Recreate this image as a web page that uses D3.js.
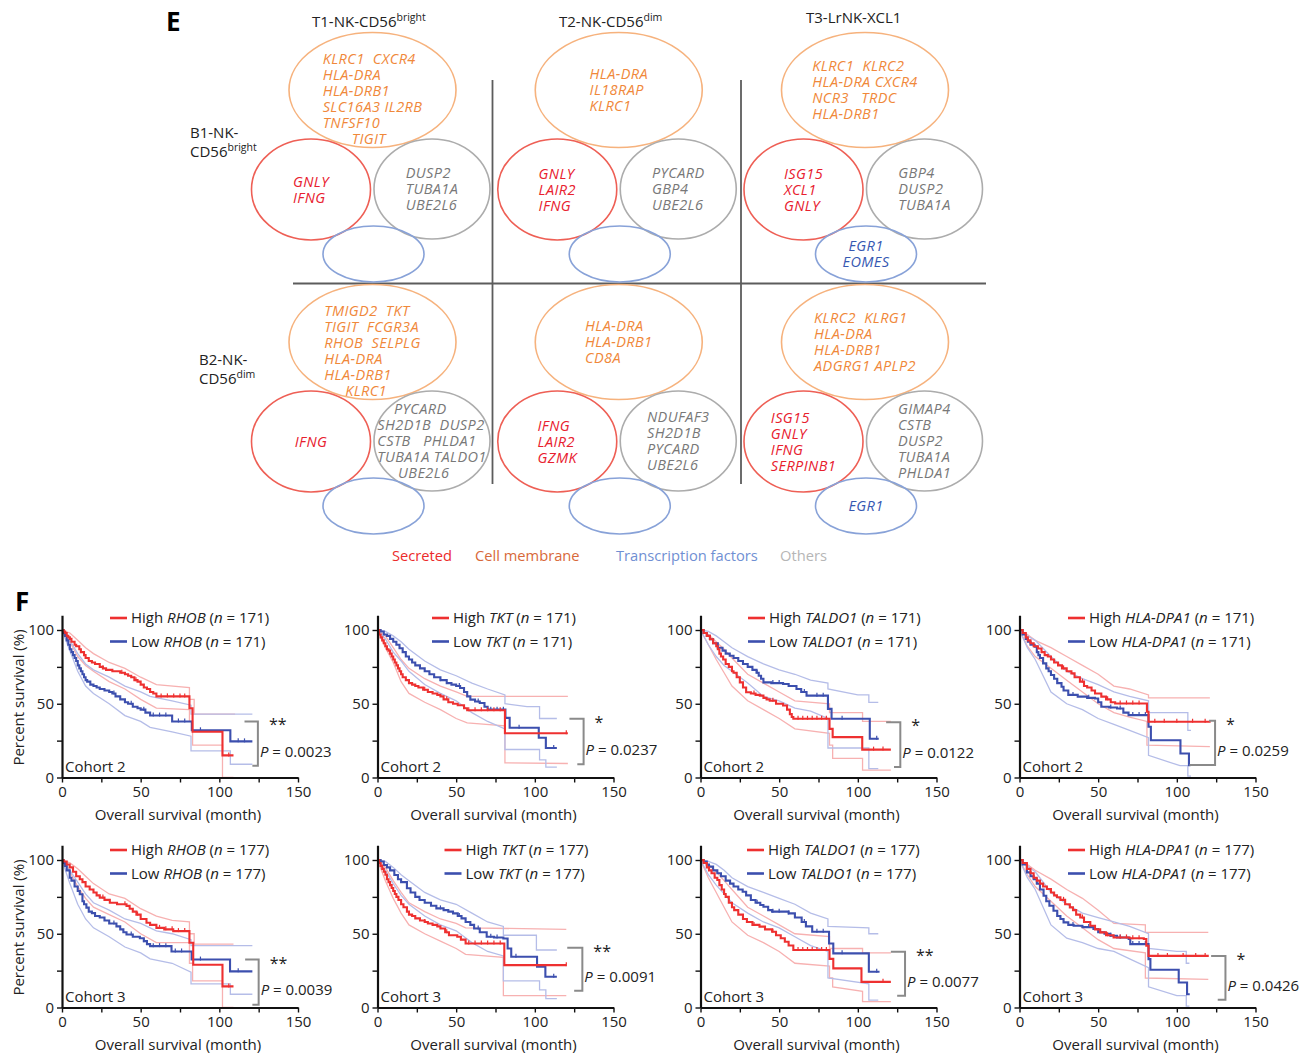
<!DOCTYPE html>
<html>
<head>
<meta charset="utf-8">
<script src="https://cdn.jsdelivr.net/npm/d3@7"></script>
<style>
  body { margin: 0; background: #fff; }
  svg text { font-family: "Open Sans", sans-serif; }
  .gene { font-style: italic; white-space: pre; letter-spacing: 0.4px; }
</style>
</head>
<body>
<svg id="fig" width="1315" height="1056"></svg>
<script>
// ---------- panel E data ----------
const headers = [["T1-NK-CD56", "bright"], ["T2-NK-CD56", "dim"], ["T3-LrNK-XCL1", ""]];
const rowLabels = [["B1-NK-", "CD56", "bright"], ["B2-NK-", "CD56", "dim"]];
const categories = ["Secreted", "Cell membrane", "Transcription factors", "Others"];

// cells in reading order: row 1 (T1,T2,T3), row 2 (T1,T2,T3)
const membraneGenes = [
  ["KLRC1  CXCR4", "HLA-DRA", "HLA-DRB1", "SLC16A3 IL2RB", "TNFSF10", "       TIGIT"],
  ["HLA-DRA", "IL18RAP", "KLRC1"],
  ["KLRC1  KLRC2", "HLA-DRA CXCR4", "NCR3   TRDC", "HLA-DRB1"],
  ["TMIGD2  TKT", "TIGIT  FCGR3A", "RHOB  SELPLG", "HLA-DRA", "HLA-DRB1", "     KLRC1"],
  ["HLA-DRA", "HLA-DRB1", "CD8A"],
  ["KLRC2  KLRG1", "HLA-DRA", "HLA-DRB1", "ADGRG1 APLP2"]
];
const secretedGenes = [
  ["GNLY", "IFNG"],
  ["GNLY", "LAIR2", "IFNG"],
  ["ISG15", "XCL1", "GNLY"],
  ["IFNG"],
  ["IFNG", "LAIR2", "GZMK"],
  ["ISG15", "GNLY", "IFNG", "SERPINB1"]
];
const otherGenes = [
  ["DUSP2", "TUBA1A", "UBE2L6"],
  ["PYCARD", "GBP4", "UBE2L6"],
  ["GBP4", "DUSP2", "TUBA1A"],
  ["    PYCARD", "SH2D1B  DUSP2", "CSTB   PHLDA1", "TUBA1A TALDO1", "     UBE2L6"],
  ["NDUFAF3", "SH2D1B", "PYCARD", "UBE2L6"],
  ["GIMAP4", "CSTB", "DUSP2", "TUBA1A", "PHLDA1"]
];
const tfGenes = [[], [], ["EGR1", "EOMES"], [], [], ["EGR1"]];

// ---------- panel F data ----------
const genes = ["RHOB", "TKT", "TALDO1", "HLA-DPA1"];
const cohorts = ["Cohort 2", "Cohort 3"];
const groupN = [171, 177];
const pValues = [["0.0023", "0.0237", "0.0122", "0.0259"], ["0.0039", "0.0091", "0.0077", "0.0426"]];
const stars = [["**", "*", "*", "*"], ["**", "**", "**", "*"]];
const xTicks = [0, 25, 50, 75, 100, 125, 150];
const yTicks = [0, 25, 50, 75, 100];
// bracket: [vertical at month, top %, bottom %, top arm from, bottom arm from]
const brackets = [
  [[124.5, 38, 8, 116, 121], [131, 39.8, 9, 122, 127], [127, 37.5, 7.2, 118, 123], [124.3, 38.5, 8.4, 120.5, 108]],
  [[125, 32.5, 1.8, 116.4, 121], [130.2, 40.5, 11.3, 120.6, 125], [130, 37.8, 7.9, 121, 125], [130.9, 35, 5.2, 121.8, 126]]
];

// Kaplan-Meier estimates [month, % surviving] (step after)
const rhob2Hi = [[0,100],[1,99],[2,98],[3,96],[4,95],[5,94],[6,92],[8,90],[9,89],[11,87],[12,85],[14,83],[15,81],[17,79],[19,78],[21,77],[24,75],[26,74],[28,73],[32,72],[37,71],[40,70],[42,69],[44,68],[46,66],[48,65],[50,63],[52,61],[54,60],[56,58],[58,57],[60,55],[81,47],[83,31],[102,15],[109,15]];
const rhob2Lo = [[0,100],[1,98],[2,96],[3,93],[4,90],[5,87],[6,85],[7,83],[8,81],[9,79],[10,76],[11,74],[12,72],[13,70],[14,68],[15,66],[16,65],[18,63],[20,62],[22,61],[24,60],[27,59],[30,58],[32,57],[34,55],[37,53],[40,51],[42,50],[45,48],[48,47],[50,46],[53,44],[56,42],[70,38],[82.5,32],[107,24.5],[121,24.5]];
const tkt2Hi = [[0,100],[1,97],[2,95],[3,93],[4,91],[5,89],[6,87],[7,86],[8,84],[9,82],[10,80],[11,78],[12,76],[13,74],[14,72],[15,70],[16,68],[18,66],[20,64],[22,63],[24,62],[26,61],[29,59.5],[32,58],[35,57],[38,56],[40,55],[42,53],[45,51],[48,50],[51,49],[55,47],[57,45.6],[81,30],[121,30]];
const tkt2Lo = [[0,100],[2,99],[4,97],[6,96],[8,94],[10,92],[12,90],[14,87.6],[16,85],[18,82],[20,80],[22,78],[24,76],[27,74],[30,72],[33,70],[36,68],[40,66],[44,64],[47,63],[50,62],[52.5,60.7],[55,58],[57,55],[59,52.8],[62,51.5],[65,50.5],[68,48],[70,46],[81.3,40.4],[84,33.7],[102.5,27],[107,20],[114,20]];
const taldo2Hi = [[0,100],[2,98],[4,96],[6,93.7],[8,91],[10,89],[11,87],[12,84],[13,82],[14.4,80],[16,77],[18,75],[20,72],[21,71],[23,68],[25,64.5],[27,61],[29,57.8],[32,57],[35,56],[37.7,55.5],[40,54],[42,53],[44,52],[48,50],[52.5,48.8],[55,46],[56.8,43],[58,41],[59,39.8],[82,33],[84,27.4],[102.8,18.9],[121,18.9]];
const taldo2Lo = [[0,100],[2,98],[4,96],[6,93.7],[8,91],[11,88],[14,86],[16,84],[18.6,82.5],[21,81],[24,79],[27,77],[30,75],[33,73],[35.6,71],[37,69],[38.5,67],[40,64.5],[45,64],[52.5,63.4],[56,62],[61,60],[64,58],[67.4,55.5],[81,46.5],[83.3,39.8],[107.6,26.3],[113.3,26.3]];
const dpa2Hi = [[0,100],[2,98],[4,95],[5.3,93],[7,91],[9,89],[11.7,87.5],[14,85],[16,83],[18,82],[20,80],[22,78],[24.5,76],[27,74],[30,72],[33,70.6],[35,68],[38.4,65],[41,62],[43,61],[45.8,59],[48,57],[52,54.8],[55,53],[58,51],[60.8,50.2],[81,44.6],[82,37.8],[121.5,37.8]];
const dpa2Lo = [[0,100],[2,97],[4,94],[5.3,92],[7,90],[9.6,88.7],[11,85],[12,83],[13,81],[15,77.4],[17,74],[18.5,72],[20,69.5],[22,67],[24,64],[26.7,61.5],[28,59],[31,56],[37,54.8],[43,54],[48,53.6],[50,51],[52,48],[57,47.5],[62,46.8],[66,44],[69.3,42.3],[82,34.4],[83.5,25.3],[102.3,16.3],[107.7,8.4],[108.7,8.4]];
const rhob3Hi = [[0,100],[1,99],[3,97],[4.9,95],[7,92],[9,89],[11.3,87],[13,85],[15,82],[17.6,80],[20,78],[22,76],[24,74.5],[27,73],[30.4,71],[35,70],[41,68.9],[43,67],[45,65],[47.3,63],[50,60],[53.7,57.5],[56,56],[60,54],[65,53],[70.7,51.8],[81,43.9],[83.4,29],[102,14.3],[109,14.3]];
const rhob3Lo = [[0,100],[1,98],[2,96],[3,93],[4.9,88],[6,86],[8,82],[10,79],[11.3,76.8],[13,72],[14,70],[15.5,67.7],[17,65],[19,64],[21,62],[24,61],[27,59],[30,57],[34.6,55],[37,53],[39,51],[41,49.5],[45,48],[49.5,47],[52,45],[54,43],[56,41.6],[69.6,38],[82.4,32.5],[106.8,24.5],[121,24.5]];
const tkt3Hi = [[0,100],[1,98],[2,96],[3,94],[4,92],[5,90],[6,87],[7,85],[8,83],[9,81],[10,79],[11,77],[12,75],[13.3,72.9],[15,70],[16.5,68],[18.7,65],[20,63],[22,62],[24,60.4],[27,59],[30,58],[32,57],[35,56],[38,55],[40,53.6],[43,51],[45.4,49],[50.7,48],[53,46],[56,43.4],[80.6,28.7],[120,28.7]];
const tkt3Lo = [[0,100],[2,99],[4,96.6],[6,95],[8,93],[10.7,89.8],[13,87],[15,85],[18.7,80.8],[21,78],[24,75],[26.7,72.9],[30,71],[34,69],[37.4,67.2],[42,66],[45,65],[48,63.8],[51,62],[53.4,60.4],[56,58],[59,56],[61.4,53.6],[65,51],[69.4,48],[74,47.5],[80,46.8],[82.7,40],[85,34.4],[101.4,27.6],[106.7,20.8],[114,20.8]];
const taldo3Hi = [[0,100],[2,98],[4,95],[5.4,93],[7,91],[9,88],[10.7,86.4],[12,83],[13.5,80],[15,77],[16,75],[18,71],[20,68],[21.4,66],[24,63],[27,60],[29.5,58],[33,56],[37.5,54.8],[41,53],[45.5,51.4],[48,49],[51,47],[53.6,44.6],[56,42],[59,39],[82,33],[84.4,26.5],[102.3,17.4],[121,17.4]];
const taldo3Lo = [[0,100],[2,99],[4,97],[5.4,95.5],[8,93],[10.7,91],[13,89],[16,86],[18.8,84],[21,82],[24,80],[26.8,78.5],[29,76],[32,72.9],[35,71],[38,69.5],[40,68.3],[43,66],[45.5,65],[56,63.8],[60,61],[64.3,58],[67,55],[71,51.4],[81.7,43.4],[84.4,36.7],[107,24.2],[113.8,24.2]];
const dpa3Hi = [[0,100],[2,98],[4.7,94],[7,91],[9,88],[11,86],[13,84],[15,82],[17.4,80.3],[20,78],[22,76],[23.8,74.7],[26,73],[29,70],[32,67.9],[34,66],[36,63],[38.6,61],[41,58],[45,55.4],[48,53],[51.3,50.9],[55,49],[59.8,47.5],[70,47],[79,46.4],[80.6,41.9],[82,35],[120.3,35]];
const dpa3Lo = [[0,100],[2,97],[4.7,91.6],[7,89],[9,87],[11,84],[13,80],[15.3,75.8],[17,72],[19,69],[21.6,65.6],[24,62],[26,60],[28,57.7],[31,56],[34.4,55.4],[40,54.5],[47,53.2],[50,51],[54,50],[57.7,48.6],[62,47.5],[69.4,46.4],[70.4,43],[82,32.8],[83.2,25.6],[101.2,17],[106.5,9],[108.2,9]];

// censored observations [month]
const rhob2HiCens = [26, 38, 47, 63, 67, 71, 75, 78, 106];
const rhob2LoCens = [33, 44, 52, 58, 62, 66, 74, 78, 88, 112, 116];
const tkt2HiCens = [30, 44, 58, 62, 66, 70, 74, 78, 120];
const tkt2LoCens = [40, 52, 64, 72, 76, 80, 90, 112];
const taldo2HiCens = [34, 46, 62, 65, 68, 71, 74, 77, 80, 110, 116];
const taldo2LoCens = [36, 46, 50, 56, 66, 74, 78, 90, 112];
const dpa2HiCens = [28, 40, 56, 64, 68, 72, 76, 86, 92, 100, 110, 118];
const dpa2LoCens = [24, 34, 44, 58, 64, 72, 76, 80];
const rhob3HiCens = [26, 40, 48, 62, 66, 70, 74, 78, 106];
const rhob3LoCens = [33, 44, 52, 58, 62, 66, 72, 76, 88, 112];
const tkt3HiCens = [30, 44, 58, 62, 66, 70, 74, 78, 120];
const tkt3LoCens = [40, 52, 64, 72, 76, 88, 112];
const taldo3HiCens = [34, 46, 62, 65, 68, 71, 74, 77, 80, 116];
const taldo3LoCens = [36, 46, 50, 56, 66, 74, 78, 90, 112];
const dpa3HiCens = [28, 40, 56, 64, 68, 72, 76, 88, 94, 104, 112, 118];
const dpa3LoCens = [24, 34, 44, 58, 64, 72, 76, 80];

// 95% confidence bounds [month, %]
const rhob2HiUp = [[0,100],[5,98],[10,93],[15,88],[20,84],[30,78],[40,74],[50,68],[60,63],[81,61],[81,53],[84,53],[84,43],[110,43]];
const rhob2HiDn = [[0,100],[5,92],[10,82],[15,76],[20,72],[30,65],[40,60],[50,53],[60,47],[81,46],[81,38],[83,38],[83,22],[102,22],[102,0],[109,0]];
const rhob2LoUp = [[0,100],[5,93],[10,84],[15,77],[20,73],[30,68],[40,62],[50,58],[56,55],[70,52],[82,49],[82,43],[121,43]];
const rhob2LoDn = [[0,100],[5,86],[10,72],[15,62],[20,57],[30,50],[40,42],[50,38],[56,34],[70,31],[82,28],[82,18],[107,18],[107,9],[121,9]];
const tkt2HiUp = [[0,100],[5,96],[10,88],[15,80],[20,74],[30,67],[40,62],[50,58],[57,55],[121,55]];
const tkt2HiDn = [[0,100],[5,88],[10,78],[15,65],[20,57],[30,51],[40,46],[50,40],[57,37],[81,35],[81,10],[121,9.5]];
const tkt2LoUp = [[0,100],[5,99],[10,96],[15,92],[20,87],[30,79],[40,73],[50,69],[60,64],[70,60],[81,56],[81,50],[95,48],[103,48],[103,40],[114,40]];
const tkt2LoDn = [[0,100],[5,94],[10,85],[15,79],[20,72],[30,63],[40,57],[50,52],[60,44],[70,38],[81,33],[81,19],[103,19],[103,12],[107,12],[107,7],[114,7]];
const taldo2HiUp = [[0,100],[5,97],[10,92],[15,87],[20,81],[30,70],[40,64],[50,58],[60,52],[82,50],[82,44],[103,44],[103,38],[121,38]];
const taldo2HiDn = [[0,100],[5,90],[10,80],[15,71],[20,62],[30,52],[40,46],[50,40],[60,33],[82,30],[82,22],[84,22],[84,13],[103,13],[103,5],[121,5]];
const taldo2LoUp = [[0,100],[5,99],[10,96],[15,92],[20,88],[30,82],[40,77],[50,73],[60,70],[70,66],[81,64],[81,60],[100,56],[107,56],[107,51],[113,51]];
const taldo2LoDn = [[0,100],[5,90],[10,82],[15,76],[20,72],[30,64],[40,55],[50,52],[60,47],[70,45],[81,40],[81,20],[107,20],[107,6],[113,6]];
const dpa2HiUp = [[0,100],[5,97],[10,93],[20,88],[30,82],[40,76],[50,70],[60,62],[70,60],[82,56],[82,54],[121,54]];
const dpa2HiDn = [[0,100],[5,89],[10,82],[20,74],[30,66],[40,58],[50,50],[60,44],[70,41],[81,38],[81,22],[121,21]];
const dpa2LoUp = [[0,100],[5,96],[10,93],[20,82],[30,72],[40,67],[50,63],[60,58],[70,55],[82,52],[82,44],[107,44],[107,32],[109,32]];
const dpa2LoDn = [[0,100],[5,88],[10,80],[20,58],[30,50],[40,46],[50,40],[60,36],[70,32],[82,27],[82,15],[102,8],[107,8],[107,1],[109,1]];
const rhob3HiUp = [[0,100],[5,98],[10,94],[15,89],[20,84],[30,77],[40,74],[50,67],[60,62],[70,59],[81,58],[81,50],[84,50],[84,43],[109,43]];
const rhob3HiDn = [[0,100],[5,92],[10,82],[15,74],[20,68],[30,63],[40,58],[50,50],[60,44],[81,44],[81,30],[83,30],[83,18],[102,18],[102,0],[109,0]];
const rhob3LoUp = [[0,100],[5,93],[10,85],[15,77],[20,71],[30,66],[40,60],[50,57],[60,52],[70,50],[82,46],[82,42],[121,42]];
const rhob3LoDn = [[0,100],[5,84],[10,70],[15,60],[20,54],[30,48],[40,41],[50,37],[56,33],[70,30],[82,24],[82,16],[107,16],[107,9],[121,9]];
const tkt3HiUp = [[0,100],[5,95],[10,86],[15,78],[20,71],[30,65],[40,60],[50,57],[56,54],[120,53]];
const tkt3HiDn = [[0,100],[5,86],[10,74],[15,64],[20,56],[30,50],[40,45],[50,40],[56,36],[80,34],[80,8],[120,8]];
const tkt3LoUp = [[0,100],[5,99],[10,95],[15,90],[20,86],[30,78],[40,73],[50,70],[60,64],[70,58],[80,55],[80,49],[101,49],[101,39],[114,39]];
const tkt3LoDn = [[0,100],[5,93],[10,84],[15,76],[20,70],[30,62],[40,56],[50,52],[60,44],[70,38],[80,35],[80,18],[103,18],[103,12],[107,12],[107,6],[114,6]];
const taldo3HiUp = [[0,100],[5,97],[10,92],[15,86],[20,80],[30,68],[40,62],[50,56],[60,50],[82,48],[82,40],[103,40],[103,37],[121,37]];
const taldo3HiDn = [[0,100],[5,88],[10,78],[15,68],[20,58],[30,49],[40,44],[50,38],[60,30],[82,28],[82,20],[84,20],[84,14],[103,11],[103,4],[121,4]];
const taldo3LoUp = [[0,100],[5,99],[10,97],[15,93],[20,88],[30,82],[40,78],[50,74],[60,70],[70,64],[81,60],[81,55],[107,54],[107,50],[113,50]];
const taldo3LoDn = [[0,100],[5,90],[10,83],[15,77],[20,71],[30,64],[40,58],[50,54],[60,48],[70,42],[81,38],[81,20],[107,16],[107,5],[113,5]];
const dpa3HiUp = [[0,100],[5,97],[10,93],[20,87],[30,80],[40,74],[50,66],[60,57],[80,56],[80,51],[120,51]];
const dpa3HiDn = [[0,100],[5,90],[10,82],[20,72],[30,62],[40,54],[50,46],[60,40],[80,37],[80,20],[120,19]];
const dpa3LoUp = [[0,100],[5,96],[10,92],[20,78],[30,70],[40,64],[50,61],[60,58],[70,55],[82,50],[82,40],[100,38],[106,38],[106,30],[108,30]];
const dpa3LoDn = [[0,100],[5,88],[10,80],[20,56],[30,47],[40,44],[50,40],[60,38],[70,33],[82,27],[82,14],[100,8],[106,8],[106,1],[108,1]];

const hiCurves = [[rhob2Hi, tkt2Hi, taldo2Hi, dpa2Hi], [rhob3Hi, tkt3Hi, taldo3Hi, dpa3Hi]];
const loCurves = [[rhob2Lo, tkt2Lo, taldo2Lo, dpa2Lo], [rhob3Lo, tkt3Lo, taldo3Lo, dpa3Lo]];
const hiCens = [[rhob2HiCens, tkt2HiCens, taldo2HiCens, dpa2HiCens], [rhob3HiCens, tkt3HiCens, taldo3HiCens, dpa3HiCens]];
const loCens = [[rhob2LoCens, tkt2LoCens, taldo2LoCens, dpa2LoCens], [rhob3LoCens, tkt3LoCens, taldo3LoCens, dpa3LoCens]];
const hiBands = [[[rhob2HiUp, rhob2HiDn], [tkt2HiUp, tkt2HiDn], [taldo2HiUp, taldo2HiDn], [dpa2HiUp, dpa2HiDn]],
                 [[rhob3HiUp, rhob3HiDn], [tkt3HiUp, tkt3HiDn], [taldo3HiUp, taldo3HiDn], [dpa3HiUp, dpa3HiDn]]];
const loBands = [[[rhob2LoUp, rhob2LoDn], [tkt2LoUp, tkt2LoDn], [taldo2LoUp, taldo2LoDn], [dpa2LoUp, dpa2LoDn]],
                 [[rhob3LoUp, rhob3LoDn], [tkt3LoUp, tkt3LoDn], [taldo3LoUp, taldo3LoDn], [dpa3LoUp, dpa3LoDn]]];

const svg = d3.select("#fig");

// ================= panel E =================
svg.append("text").attr("x", 166).attr("y", 31)
  .style("font-size", "26px").style("font-weight", "bold").text("E");

const colX = d3.scaleLinear().domain([0, 2]).range([372.5, 865]);
const rowY = d3.scaleLinear().domain([0, 1]).range([90, 342]);

const headerX = [312, 559, 806];
const headerY = [27, 27, 23];
headers.forEach((h, i) => {
  const t = svg.append("text").attr("x", headerX[i]).attr("y", headerY[i])
    .style("font-size", "15px").style("fill", "#222").text(h[0]);
  if (h[1]) t.append("tspan").attr("dy", -6).style("font-size", "10.5px").text(h[1]);
});

const rowLabelX = [190, 199];
const rowLabelY = [138, 365];
rowLabels.forEach((r, i) => {
  const y0 = rowLabelY[i];
  svg.append("text").attr("x", rowLabelX[i]).attr("y", y0)
    .style("font-size", "15px").style("fill", "#222").text(r[0]);
  const t = svg.append("text").attr("x", rowLabelX[i]).attr("y", y0 + 18.5)
    .style("font-size", "15px").style("fill", "#222").text(r[1]);
  t.append("tspan").attr("dy", -6).style("font-size", "10.5px").text(r[2]);
});

// grid
const grid = svg.append("g").attr("stroke", "#5c5c5c").attr("stroke-width", 1.8);
[492.5, 741].forEach(x => grid.append("line").attr("x1", x).attr("x2", x).attr("y1", 80).attr("y2", 484));
grid.append("line").attr("x1", 293).attr("x2", 986).attr("y1", 283.5).attr("y2", 283.5);

const kinds = [
  { genes: membraneGenes, dx: 0, dy: 0, rx: 83.5, ry: 57.5, line: "#f6b27d", ink: "#f0883a", mid: false },
  { genes: secretedGenes, dx: -61.5, dy: 99.5, rx: 59.5, ry: 50.5, line: "#ee5f55", ink: "#e8202e", mid: false },
  { genes: otherGenes, dx: 59.5, dy: 99, rx: 58, ry: 50, line: "#acacac", ink: "#787878", mid: false },
  { genes: tfGenes, dx: 1, dy: 164, rx: 50.5, ry: 28, line: "#88a2d8", ink: "#3658b2", mid: true }
];
const lh = 16;

for (let k = 0; k < 6; k++) {
  const row = Math.floor(k / 3), col = k % 3;
  kinds.forEach(kind => {
    const cx = colX(col) + kind.dx, cy = rowY(row) + kind.dy;
    svg.append("ellipse").attr("cx", cx).attr("cy", cy).attr("rx", kind.rx).attr("ry", kind.ry)
      .attr("fill", "none").attr("stroke", kind.line).attr("stroke-width", 1.6);
    const lines = kind.genes[k];
    if (!lines.length) return;
    const n = lines.length;
    let y0 = cy - (n - 1) * lh / 2 + 5;
    if (n >= 5 && kind.dx === 0) y0 = cy - 26;
    const t = svg.append("text").attr("class", "gene").attr("xml:space", "preserve")
      .style("font-size", "14.5px").style("fill", kind.ink)
      .attr("text-anchor", kind.mid ? "middle" : "start");
    const spans = lines.map((s, i) => t.append("tspan").attr("y", y0 + i * lh).text(s));
    if (kind.mid) {
      spans.forEach(s => s.attr("x", cx));
    } else {
      const w = d3.max(spans, s => s.node().getComputedTextLength());
      spans.forEach(s => s.attr("x", cx - w / 2));
    }
  });
}

// category legend
const catColors = ["#ec2b2b", "#d8693a", "#6f8fd3", "#b6b6b6"];
const catX = [392, 475, 616, 780];
categories.forEach((c, i) => {
  svg.append("text").attr("x", catX[i]).attr("y", 561)
    .style("font-size", "14.7px").style("fill", catColors[i]).text(c);
});

// ================= panel F =================
svg.append("text").attr("x", 15).attr("y", 611)
  .style("font-size", "26px").style("font-weight", "bold").text("F");

const colAx = [62, 377.5, 700.5, 1019.5];
const rowBase = [777.5, 1007.5];
const plotW = 236, plotH = 147.5;
const legX = [[110, 432, 748, 1068], [110, 444.5, 747, 1068]];
const legY = [618, 850];
const red = "#ee3030", blue = "#3c4fae", redCI = "#f7b1b1", blueCI = "#b5bde8";

const stepLine = (x, y) => d3.line().x(d => x(d[0])).y(d => y(d[1])).curve(d3.curveStepAfter);
const bandLine = (x, y) => d3.line().x(d => x(d[0])).y(d => y(d[1]));
const stepAt = (curve, t) => {
  const i = d3.bisector(d => d[0]).right(curve, t) - 1;
  return curve[Math.max(0, i)][1];
};

cohorts.forEach((cohort, i) => {
  genes.forEach((gene, j) => {
    const ax = colAx[j], base = rowBase[i];
    const x = d3.scaleLinear().domain([0, 150]).range([ax, ax + plotW]);
    const y = d3.scaleLinear().domain([0, 100]).range([base, base - plotH]);
    const yAxisScale = d3.scaleLinear().domain([0, 110]).range([base, base - plotH * 1.1]);
    const g = svg.append("g");

    // confidence bounds
    hiBands[i][j].forEach(b => g.append("path").attr("d", bandLine(x, y)(b))
      .attr("fill", "none").attr("stroke", redCI).attr("stroke-width", 1.3));
    loBands[i][j].forEach(b => g.append("path").attr("d", bandLine(x, y)(b))
      .attr("fill", "none").attr("stroke", blueCI).attr("stroke-width", 1.3));

    // survival curves with censor ticks
    [[loCurves, loCens, blue], [hiCurves, hiCens, red]].forEach(([cv, cs, col]) => {
      const curve = cv[i][j];
      g.append("path").attr("d", stepLine(x, y)(curve))
        .attr("fill", "none").attr("stroke", col).attr("stroke-width", 2.1);
      g.selectAll(null).data(cs[i][j]).join("line")
        .attr("x1", d => x(d)).attr("x2", d => x(d))
        .attr("y1", d => y(stepAt(curve, d)) - 3).attr("y2", d => y(stepAt(curve, d)) + 1)
        .attr("stroke", col).attr("stroke-width", 1.2);
    });

    // axes
    const xa = g.append("g").attr("transform", `translate(0,${base})`)
      .call(d3.axisBottom(x).tickValues(xTicks).tickFormat(d => d % 50 === 0 ? d : "")
        .tickSizeInner(5).tickSizeOuter(0).tickPadding(4));
    const ya = g.append("g").attr("transform", `translate(${ax},0)`)
      .call(d3.axisLeft(yAxisScale).tickValues(yTicks).tickFormat(d => d % 50 === 0 ? d : "")
        .tickSizeInner(5).tickSizeOuter(0).tickPadding(3));
    [xa, ya].forEach(a => {
      a.select(".domain").attr("stroke", "#111").attr("stroke-width", 2.2);
      a.selectAll(".tick line").attr("stroke", "#111").attr("stroke-width", 1.4);
      a.selectAll(".tick text").style("font-size", "15px").style("fill", "#222")
        .style("font-family", '"Open Sans", sans-serif');
    });

    g.append("text").attr("x", ax + plotW / 2 - 2).attr("y", base + 42).attr("text-anchor", "middle")
      .style("font-size", "15px").style("fill", "#222").text("Overall survival (month)");
    if (j === 0) {
      g.append("text").attr("transform", `translate(18,${base - 80}) rotate(-90)`)
        .attr("text-anchor", "middle").attr("dominant-baseline", "central")
        .style("font-size", "15px").style("fill", "#222").text("Percent survival (%)");
    }
    g.append("text").attr("x", ax + 3).attr("y", base - 6)
      .style("font-size", "15px").style("fill", "#222").text(cohort);

    // legend
    [["High", red], ["Low", blue]].forEach(([lab, col], k) => {
      const ly = legY[i] + k * 23.5;
      g.append("line").attr("x1", legX[i][j]).attr("x2", legX[i][j] + 17)
        .attr("y1", ly).attr("y2", ly).attr("stroke", col).attr("stroke-width", 2.6);
      const t = g.append("text").attr("x", legX[i][j] + 21).attr("y", ly + 5)
        .style("font-size", "15px").style("fill", "#222").attr("xml:space", "preserve");
      t.append("tspan").text(lab + " ");
      t.append("tspan").style("font-style", "italic").text(gene);
      t.append("tspan").text(" (");
      t.append("tspan").style("font-style", "italic").text("n");
      t.append("tspan").text(` = ${groupN[i]})`);
    });

    // significance bracket
    const [bx, bt, bb, bl1, bl2] = brackets[i][j];
    g.append("path")
      .attr("d", `M${x(bl1)},${y(bt)}H${x(bx)}V${y(bb)}H${x(bl2)}`)
      .attr("fill", "none").attr("stroke", "#8a8a8a").attr("stroke-width", 2);
    g.append("text").attr("x", x(bx) + 11).attr("y", y(bt) + 9)
      .style("font-size", "16px").style("fill", "#222").text(stars[i][j]);
    const pt = g.append("text").attr("x", x(bx) + 2).attr("y", y((bt + bb) / 2) + 13)
      .style("font-size", "15px").style("fill", "#222");
    pt.append("tspan").style("font-style", "italic").text("P");
    pt.append("tspan").text(` = ${pValues[i][j]}`);
  });
});
</script>
</body>
</html>
